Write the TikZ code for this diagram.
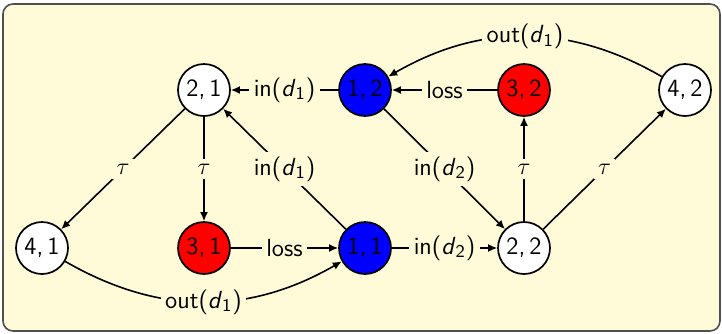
\documentclass[tikz,border=0pt]{standalone}
\usetikzlibrary{arrows.meta}
\definecolor{blockbg}{RGB}{255,250,215}
\definecolor{blockframe}{RGB}{80,80,80}
\newcommand\dd[1]{\textsl{d}$_{\mathsf{#1}}$}
\begin{document}
\begin{tikzpicture}[x=0.5pt,y=-0.5pt,
  font=\sffamily\fontsize{12.4}{14}\selectfont,
  st/.style={circle,draw,line width=0.85pt,minimum size=26pt,inner sep=0pt,fill=white},
  stb/.style={st,fill=blue},
  str/.style={st,fill=red},
  edge/.style={draw,line width=0.8pt,-{Latex[length=4.5pt,width=4pt]}},
  lbl/.style={fill=blockbg,inner sep=2.2pt}]
\useasboundingbox (0,0) rectangle (722,333);
\draw[blockframe,fill=blockbg,line width=0.8pt,rounded corners=5pt] (3,4) rectangle (720,331);
\node[st]  (n21) at (204,90)  {2,\,1};
\node[stb] (n12) at (365,90)  {1,\,2};
\node[str] (n32) at (524,90)  {3,\,2};
\node[st]  (n42) at (685,90)  {4,\,2};
\node[st]  (n41) at (42,248)  {4,\,1};
\node[str] (n31) at (204,248) {3,\,1};
\node[stb] (n11) at (365,248) {1,\,1};
\node[st]  (n22) at (524,248) {2,\,2};
\draw[edge] (n12) -- node[lbl]{in(\dd1)} (n21);
\draw[edge] (n32) -- node[lbl]{loss} (n12);
\draw[edge] (n42) to[bend right=30] node[lbl]{out(\dd1)} (n12);
\draw[edge] (n21) -- node[lbl]{$\tau$} (n41);
\draw[edge] (n21) -- node[lbl]{$\tau$} (n31);
\draw[edge] (n11) -- node[lbl]{in(\dd1)} (n21);
\draw[edge] (n31) -- node[lbl]{loss} (n11);
\draw[edge] (n41) to[bend right=30] node[lbl]{out(\dd1)} (n11);
\draw[edge] (n11) -- node[lbl]{in(\dd2)} (n22);
\draw[edge] (n12) -- node[lbl]{in(\dd2)} (n22);
\draw[edge] (n22) -- node[lbl]{$\tau$} (n32);
\draw[edge] (n22) -- node[lbl]{$\tau$} (n42);
\end{tikzpicture}
\end{document}
